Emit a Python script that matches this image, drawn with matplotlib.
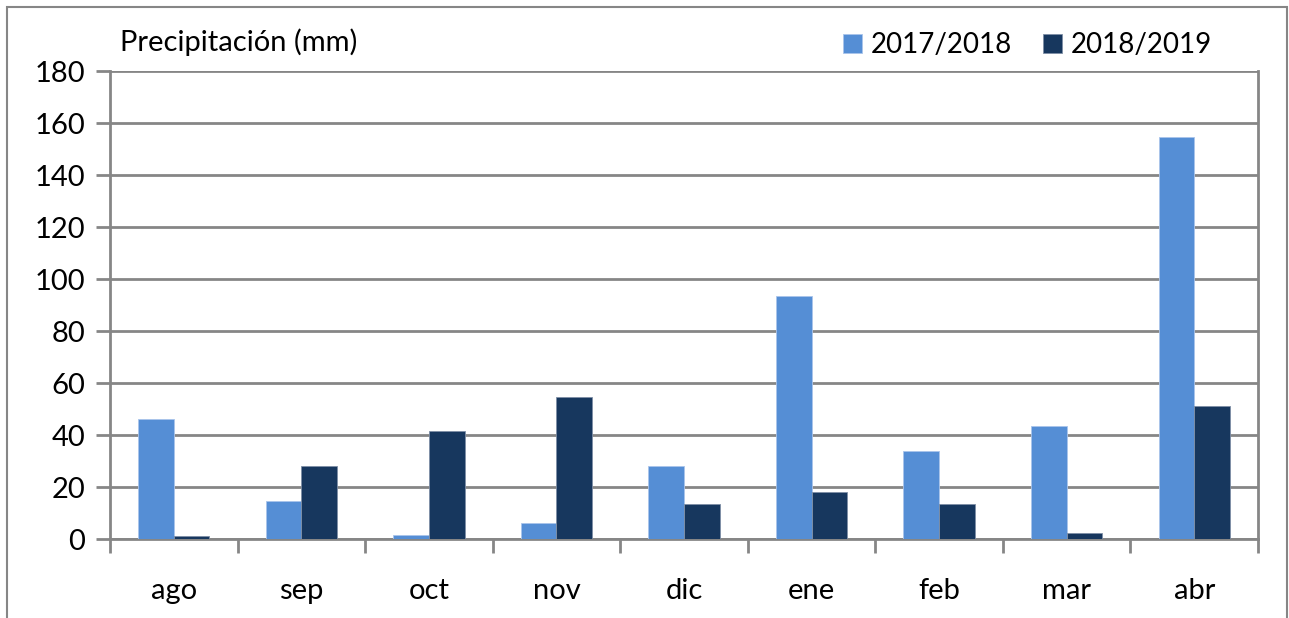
import numpy as np
import matplotlib
matplotlib.use("Agg")
from matplotlib import pyplot as plt
from matplotlib.patches import Rectangle

########################################################################
# Dados
########################################################################
meses = ["ago", "sep", "oct", "nov", "dic", "ene", "feb", "mar", "abr"]
serie_2017_2018 = [46, 14.5, 1.5, 6, 28, 93.5, 34, 43.5, 154.5]
serie_2018_2019 = [1, 28, 41.5, 54.5, 13.5, 18, 13.5, 2.3, 51]
nomes_series = ["2017/2018", "2018/2019"]
y_ticks = [0, 20, 40, 60, 80, 100, 120, 140, 160, 180]

cor_clara = "#558ED5"
cor_escura = "#17375E"
cor_grade = "#868686"

plt.rcParams["font.family"] = ["Lato", "DejaVu Sans"]

########################################################################
# Grafico
########################################################################
fig = plt.figure(figsize=(12.89, 6.18), dpi=100)
ax = fig.add_axes([110 / 1289, 79 / 618, 1148 / 1289, 468 / 618])

x = np.arange(len(meses))
largura = 0.28
ax.bar(x - largura / 2, serie_2017_2018, largura, color=cor_clara,
       label=nomes_series[0], zorder=3, edgecolor="#A9C4EB", linewidth=0.6)
ax.bar(x + largura / 2, serie_2018_2019, largura, color=cor_escura,
       label=nomes_series[1], zorder=3, edgecolor="#7F8FA6", linewidth=0.6)

ax.set_xlim(-0.5, len(meses) - 0.5)
ax.set_ylim(0, 180)
ax.set_yticks(y_ticks)
ax.yaxis.grid(True, color=cor_grade, linewidth=2, zorder=0)
ax.set_xticks(x)
ax.set_xticklabels(meses, fontsize=21)
ax.set_xticks(np.arange(-0.5, len(meses)), minor=True)
ax.tick_params(axis="x", which="major", length=0, pad=28)
ax.tick_params(axis="x", which="minor", length=10, width=2, color=cor_grade)
ax.tick_params(axis="y", length=10, width=2, color=cor_grade, labelsize=21, pad=8)

for lado in ["left", "bottom", "right"]:
    ax.spines[lado].set_color(cor_grade)
    ax.spines[lado].set_linewidth(2)
ax.spines["top"].set_visible(False)

fig.text(120 / 1289, 1 - 42 / 618, "Precipitación (mm)", fontsize=21,
         va="center", ha="left")

ax.legend(loc="center left", bbox_to_anchor=(818 / 1289, 1 - 45 / 618),
          bbox_transform=fig.transFigure, ncol=2, frameon=False, fontsize=20,
          handlelength=0.7, handleheight=0.7, columnspacing=1.1,
          handletextpad=0.3)

fig.patches.append(Rectangle((7 / 1289, -0.1), 1280 / 1289, 1.1 - 7 / 618,
                             transform=fig.transFigure, fill=False,
                             edgecolor=cor_grade, linewidth=1.5))

fig.savefig("out.png", dpi=100)
